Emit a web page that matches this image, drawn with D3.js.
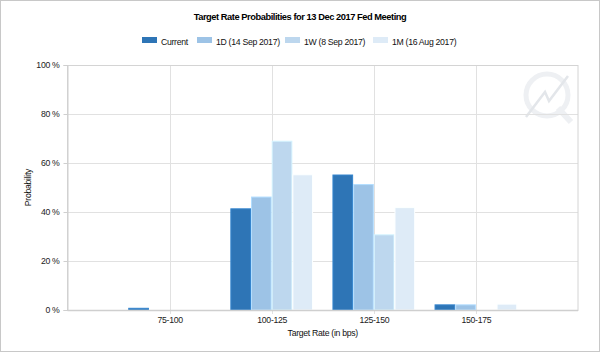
<!DOCTYPE html>
<html>
<head>
<meta charset="utf-8">
<script src="https://cdn.jsdelivr.net/npm/d3@7"></script>
<style>
  body { margin: 0; background: #fff; }
  svg { display: block; font-family: "Liberation Sans", Arial, sans-serif; }
</style>
</head>
<body>
<div id="chart"></div>
<script>
// data
const categories = ['75-100', '100-125', '125-150', '150-175']
const seriesNames = ['Current', '1D (14 Sep 2017)', '1W (8 Sep 2017)', '1M (16 Aug 2017)']
const current = [0.9, 41.5, 55.3, 2.3]
const oneDay = [0, 46.3, 51.4, 2.3]
const oneWeek = [0, 69.1, 30.9, 0]
const oneMonth = [0, 55.4, 42.0, 2.6]
const yTicks = [0, 20, 40, 60, 80, 100]

const colors = ['#2e75b6', '#9dc3e6', '#bdd7ee', '#deebf7']
const series = [current, oneDay, oneWeek, oneMonth]

const width = 600,
      height = 352,
      plot = { left: 67.5, right: 578, top: 65, bottom: 310 }

const svg = d3.select('#chart').append('svg')
  .attr('width', width)
  .attr('height', height)

// outer frame
svg.append('rect')
  .attr('x', 0.5).attr('y', 0.5)
  .attr('width', width - 1).attr('height', height - 1)
  .attr('fill', '#fff').attr('stroke', '#c8c8c8')

const x = d3.scalePoint()
  .domain(categories)
  .range([plot.left, plot.right])
  .padding(1)

const y = d3.scaleLinear()
  .domain([0, 100])
  .range([plot.bottom, plot.top])

const groupWidth = x.step() * 0.81
const xInner = d3.scaleBand()
  .domain(d3.range(series.length))
  .range([-groupWidth / 2, groupWidth / 2])

// watermark
const wm = svg.append('g').attr('fill', 'none').attr('stroke', '#eef0f3')
wm.append('circle').attr('cx', 547).attr('cy', 95).attr('r', 21).attr('stroke-width', 5)
wm.append('path').attr('d', 'M558,108 L571,122').attr('stroke-width', 6)
wm.append('path')
  .attr('d', 'M526,117 L545,92 L549,101 L568,76')
  .attr('stroke', '#e3e6ea').attr('stroke-width', 2.5)

// gridlines
svg.append('g')
  .selectAll('line.hgrid')
  .data(yTicks).enter()
  .append('line')
  .attr('class', 'hgrid')
  .attr('x1', plot.left).attr('x2', plot.right)
  .attr('y1', d => Math.round(y(d)) + 0.5).attr('y2', d => Math.round(y(d)) + 0.5)
  .attr('stroke', '#e1e1e1')

svg.append('g')
  .selectAll('line.vgrid')
  .data(categories).enter()
  .append('line')
  .attr('class', 'vgrid')
  .attr('x1', d => Math.round(x(d)) + 0.5).attr('x2', d => Math.round(x(d)) + 0.5)
  .attr('y1', plot.top).attr('y2', plot.bottom + 4)
  .attr('stroke', '#e1e1e1')

// plot border
svg.append('rect')
  .attr('x', plot.left).attr('y', plot.top + 0.5)
  .attr('width', plot.right - plot.left).attr('height', plot.bottom - plot.top)
  .attr('fill', 'none').attr('stroke', '#d4d4d4')

// bars
svg.append('g')
  .selectAll('g')
  .data(series).enter()
  .append('g')
  .attr('fill', (d, i) => colors[i])
  .attr('stroke', (d, i) => d3.color(colors[i]).brighter(0.35))
  .selectAll('rect')
  .data((d, i) => d.map((v, j) => ({ cat: categories[j], v, i })))
  .enter()
  .filter(d => d.v > 0)
  .append('rect')
  .attr('x', d => x(d.cat) + xInner(d.i) + 0.5)
  .attr('width', xInner.bandwidth() - 1)
  .attr('y', d => y(d.v) + 0.5)
  .attr('height', d => y(0) - y(d.v) - 0.5)

// axes
const yAxis = d3.axisLeft(y).tickValues(yTicks).tickSize(4).tickPadding(4).tickFormat(d => d + ' %')
svg.append('g')
  .attr('transform', `translate(${plot.left},0)`)
  .call(yAxis)
  .call(g => g.select('.domain').attr('stroke', '#cfcfcf'))
  .call(g => g.selectAll('.tick line').attr('stroke', '#cfcfcf'))
  .call(g => g.selectAll('.tick text').attr('fill', '#222').attr('font-size', 8.7).attr('letter-spacing', -0.3))

const xAxis = d3.axisBottom(x).tickSize(0).tickPadding(7)
svg.append('g')
  .attr('transform', `translate(0,${plot.bottom})`)
  .call(xAxis)
  .call(g => g.select('.domain').remove())
  .call(g => g.selectAll('.tick text').attr('fill', '#222').attr('font-size', 8.7).attr('letter-spacing', -0.3))

svg.append('line')
  .attr('x1', plot.left).attr('x2', plot.right)
  .attr('y1', plot.bottom + 0.5).attr('y2', plot.bottom + 0.5)
  .attr('stroke', '#cfcfcf').attr('stroke-width', 1.5)

// titles
svg.append('text')
  .attr('x', 300).attr('y', 20)
  .attr('text-anchor', 'middle')
  .attr('font-weight', 'bold')
  .attr('font-size', 9.3)
  .attr('letter-spacing', -0.45)
  .attr('fill', '#000')
  .text('Target Rate Probabilities for 13 Dec 2017 Fed Meeting')

svg.append('text')
  .attr('x', (plot.left + plot.right) / 2).attr('y', 336)
  .attr('text-anchor', 'middle')
  .attr('font-size', 8.7)
  .attr('letter-spacing', -0.3)
  .attr('fill', '#111')
  .text('Target Rate (in bps)')

svg.append('text')
  .attr('transform', `translate(31,${(plot.top + plot.bottom) / 2}) rotate(-90)`)
  .attr('text-anchor', 'middle')
  .attr('font-size', 8.7)
  .attr('letter-spacing', -0.3)
  .attr('fill', '#111')
  .text('Probability')

// legend
const legendX = [142, 197, 285, 373]
const legend = svg.append('g')
  .selectAll('g')
  .data(seriesNames).enter()
  .append('g')
  .attr('transform', (d, i) => `translate(${legendX[i]},37)`)
legend.append('rect')
  .attr('width', 15).attr('height', 6)
  .attr('fill', (d, i) => colors[i])
legend.append('text')
  .attr('x', 19).attr('y', 7.5)
  .attr('font-size', 8.7)
  .attr('letter-spacing', -0.3)
  .attr('fill', '#111')
  .text(d => d)
</script>
</body>
</html>
